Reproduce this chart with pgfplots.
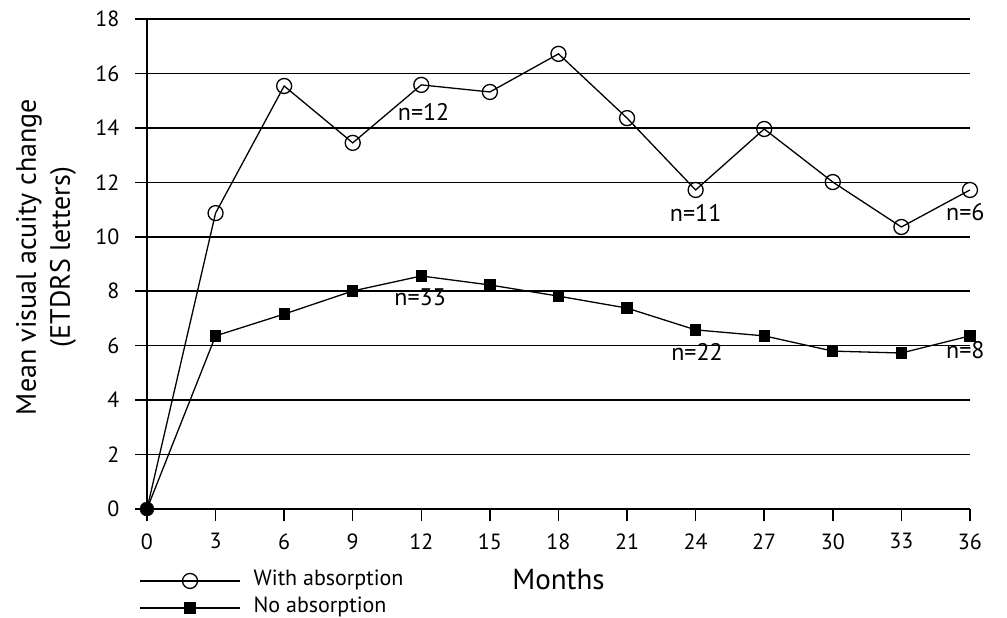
\documentclass[border=0pt]{standalone}
\usepackage{pgfplots}
\pgfplotsset{compat=1.18}
\usepackage{fontspec}
\setmainfont{PT Sans}
\begin{document}
\begin{tikzpicture}
\begin{axis}[
  scale only axis, width=823pt, height=490pt,
  xmin=0, xmax=36, ymin=0, ymax=18,
  clip=false,
  axis x line=bottom, axis y line=left,
  axis line style={-, line width=1.5pt},
  xtick={0,3,...,36}, ytick={0,2,...,18},
  tick align=outside, major tick length=12pt,
  tick style={line width=1.5pt, black},
  ymajorgrids, grid style={line width=1.5pt, black},
  /pgf/number format/assume math mode=true,
  tick label style={font=\fontsize{22}{24}\selectfont},
  yticklabel style={xshift=-12pt},
  xticklabel style={yshift=-9pt},
  xlabel={Months},
  xlabel style={font=\fontsize{29}{32}\selectfont, at={(rel axis cs:0.5,0)}, anchor=base, yshift=-80pt},
  ylabel={Mean visual acuity change\\(ETDRS letters)},
  ylabel style={font=\fontsize{28}{34}\selectfont, align=center, at={(rel axis cs:-0.1227,0.514)}, anchor=center},
  legend cell align=left,
  legend style={draw=none, fill=none, at={(rel axis cs:-0.0095,-0.126)}, anchor=north west,
    font=\fontsize{22}{24}\selectfont, row sep=7pt, column sep=13pt, inner sep=0pt,
    nodes={inner sep=0pt, text height=15pt, text depth=5pt}},
  legend image code/.code={
    \draw[#1, mark repeat=2, mark phase=2] plot coordinates {(0pt,0pt) (50pt,0pt) (100pt,0pt)};
  },
]
\path (rel axis cs:-0.1786,-0.2204) rectangle (rel axis cs:1.045,1.0388);
\addplot[black, line width=1.3pt, mark=o, mark size=7.5pt, mark phase=2, mark repeat=1,
  mark options={fill=white, line width=1.3pt}] coordinates {
  (0,0) (3,10.87) (6,15.54) (9,13.45) (12,15.58) (15,15.32) (18,16.72)
  (21,14.36) (24,11.72) (27,13.96) (30,12.01) (33,10.36) (36,11.72)};
\addlegendentry{With absorption}
\addplot[black, line width=1.3pt, mark=square*, mark size=5pt, mark phase=2, mark repeat=1,
  mark options={solid}] coordinates {
  (0,0) (3,6.36) (6,7.16) (9,8.01) (12,8.56) (15,8.23) (18,7.82)
  (21,7.38) (24,6.58) (27,6.36) (30,5.80) (33,5.73) (36,6.36)};
\addlegendentry{No absorption}
\addplot[only marks, mark=*, mark size=7pt, black, forget plot] coordinates {(0,0)};
\node[font=\fontsize{24}{26}\selectfont] at (axis cs:12.1,14.6) {n=12};
\node[font=\fontsize{24}{26}\selectfont] at (axis cs:24.0,10.87) {n=11};
\node[font=\fontsize{24}{26}\selectfont] at (axis cs:35.8,10.9) {n=6};
\node[font=\fontsize{24}{26}\selectfont] at (axis cs:11.95,7.79) {n=33};
\node[font=\fontsize{24}{26}\selectfont] at (axis cs:24.06,5.77) {n=22};
\node[font=\fontsize{24}{26}\selectfont] at (axis cs:35.8,5.84) {n=8};
\end{axis}
\end{tikzpicture}
\end{document}
